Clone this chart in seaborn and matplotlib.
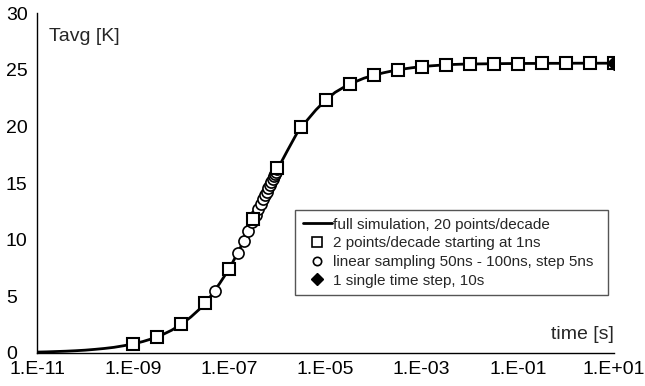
import numpy as np
import pandas as pd
import matplotlib
matplotlib.use("Agg")
import matplotlib.pyplot as plt
import seaborn as sns
from matplotlib.ticker import FixedLocator, FuncFormatter, NullLocator
from matplotlib.lines import Line2D

# full simulation curve (5 points/decade)
sim_logt = [-11.0, -10.8, -10.6, -10.4, -10.2, -10.0, -9.8, -9.6, -9.4, -9.2,
            -9.0, -8.8, -8.6, -8.4, -8.2, -8.0, -7.8, -7.6, -7.4, -7.2,
            -7.0, -6.8, -6.6, -6.4, -6.2, -6.0, -5.8, -5.6, -5.4, -5.2,
            -5.0, -4.8, -4.6, -4.4, -4.2, -4.0, -3.8, -3.6, -3.4, -3.2,
            -3.0, -2.8, -2.6, -2.4, -2.2, -2.0, -1.8, -1.6, -1.4, -1.2,
            -1.0, -0.8, -0.6, -0.4, -0.2, 0.0, 0.2, 0.4, 0.6, 0.8, 1.0]
sim_temp = [0.08, 0.10, 0.13, 0.16, 0.20, 0.25, 0.32, 0.40, 0.50, 0.64,
            0.80, 1.01, 1.27, 1.60, 2.01, 2.53, 3.18, 3.95, 4.95, 6.15,
            7.45, 9.05, 10.8, 12.65, 14.4, 16.2, 17.8, 19.35, 20.45, 21.45,
            22.3, 23.0, 23.5, 23.9, 24.25, 24.5, 24.72, 24.9, 25.05, 25.17,
            25.27, 25.34, 25.40, 25.45, 25.48, 25.50, 25.51, 25.52, 25.53, 25.54,
            25.54, 25.55, 25.55, 25.56, 25.56, 25.56, 25.57, 25.57, 25.57, 25.57, 25.57]

# 2 points/decade starting at 1ns
sq_time = [1e-9, 3.16e-9, 1e-8, 3.16e-8, 1e-7, 3.16e-7, 1e-6, 3.16e-6, 1e-5,
           3.16e-5, 1e-4, 3.16e-4, 1e-3, 3.16e-3, 1e-2, 3.16e-2, 0.1, 0.316,
           1.0, 3.16, 10.0]
sq_temp = [0.8, 1.4, 2.53, 4.44, 7.44, 11.8, 16.3, 19.9, 22.3,
           23.7, 24.5, 24.98, 25.27, 25.39, 25.48, 25.5, 25.53, 25.55,
           25.56, 25.57, 25.57]

# linear sampling
circ_time = [5e-8, 1e-7, 1.5e-7, 2e-7, 2.5e-7, 3e-7, 3.5e-7, 4e-7, 4.5e-7, 5e-7,
             5.5e-7, 6e-7, 6.5e-7, 7e-7, 7.5e-7, 8e-7, 8.5e-7, 9e-7, 9.5e-7, 1e-6]
circ_temp = [5.5, 7.45, 8.85, 9.9, 10.77, 11.6, 12.15, 12.7, 13.15, 13.55,
             13.9, 14.25, 14.55, 14.85, 15.1, 15.35, 15.6, 15.8, 16.0, 16.2]

# single step
dia_time = [10.0]
dia_temp = [25.57]

legend_labels = ["full simulation, 20 points/decade",
                 "2 points/decade starting at 1ns",
                 "linear sampling 50ns - 100ns, step 5ns",
                 "1 single time step, 10s"]

sns.set_theme(style="white")
plt.rcParams["font.family"] = ["Liberation Sans", "DejaVu Sans"]

fig = plt.figure(figsize=(6.45, 3.86), dpi=100)
ax = fig.add_axes([0.0574, 0.0855, 0.8946, 0.8808])

sim = pd.DataFrame({"time": 10.0 ** np.array(sim_logt), "temp": sim_temp})
sns.lineplot(data=sim, x="time", y="temp", ax=ax, color="black", linewidth=2, zorder=2)
ax.set_xscale("log")

ax.plot(circ_time, circ_temp, linestyle="none", marker="o", markersize=8,
        markerfacecolor="white", markeredgecolor="black", markeredgewidth=1.2, zorder=3)
ax.plot(sq_time, sq_temp, linestyle="none", marker="s", markersize=8,
        markerfacecolor="white", markeredgecolor="black", markeredgewidth=1.5, zorder=4)
ax.plot(dia_time, dia_temp, linestyle="none", marker="D", markersize=7,
        color="black", zorder=5)

ax.set_xlim(1e-11, 10)
ax.set_ylim(0, 30)
ax.set_yticks([0, 5, 10, 15, 20, 25, 30])

decades = list(range(-11, 2))
ax.xaxis.set_major_locator(FixedLocator([10.0 ** k for k in decades]))
ax.xaxis.set_minor_locator(NullLocator())
ax.xaxis.set_major_formatter(FuncFormatter(
    lambda v, p: (f"1.E{int(round(np.log10(v))):+03d}" if int(round(np.log10(v))) % 2 != 0 else "")))

for s in ["top", "right"]:
    ax.spines[s].set_visible(False)
for s in ["left", "bottom"]:
    ax.spines[s].set_color("black")
    ax.spines[s].set_linewidth(1.0)
ax.tick_params(axis="both", direction="inout", length=6, width=1, color="black",
               labelsize=14, labelcolor="black")
ax.tick_params(axis="x", pad=3)
ax.tick_params(axis="y", pad=19.5)
for lab in ax.get_yticklabels():
    lab.set_horizontalalignment("left")
ax.set_xlabel("")
ax.set_ylabel("")

ax.text(0.021, 0.93, "Tavg [K]", transform=ax.transAxes, fontsize=14, va="center", ha="left")
ax.text(1.0, 0.053, "time [s]", transform=ax.transAxes, fontsize=14, va="center", ha="right")

handles = [
    Line2D([], [], color="black", linewidth=2),
    Line2D([], [], linestyle="none", marker="s", markersize=7, markerfacecolor="white",
           markeredgecolor="black", markeredgewidth=1.2),
    Line2D([], [], linestyle="none", marker="o", markersize=6, markerfacecolor="white",
           markeredgecolor="black", markeredgewidth=1.2),
    Line2D([], [], linestyle="none", marker="D", markersize=6, color="black"),
]
leg = ax.legend(handles, legend_labels, loc="upper left", bbox_to_anchor=(0.447, 0.162, 0.543, 0.258),
                mode="expand", fontsize=11, frameon=True, fancybox=False, framealpha=1,
                edgecolor="#555555", handlelength=1.9, handletextpad=0.1, labelspacing=0.3,
                borderpad=0.5, borderaxespad=0)
leg.get_frame().set_linewidth(1.0)

fig.savefig("out.png", dpi=100)
